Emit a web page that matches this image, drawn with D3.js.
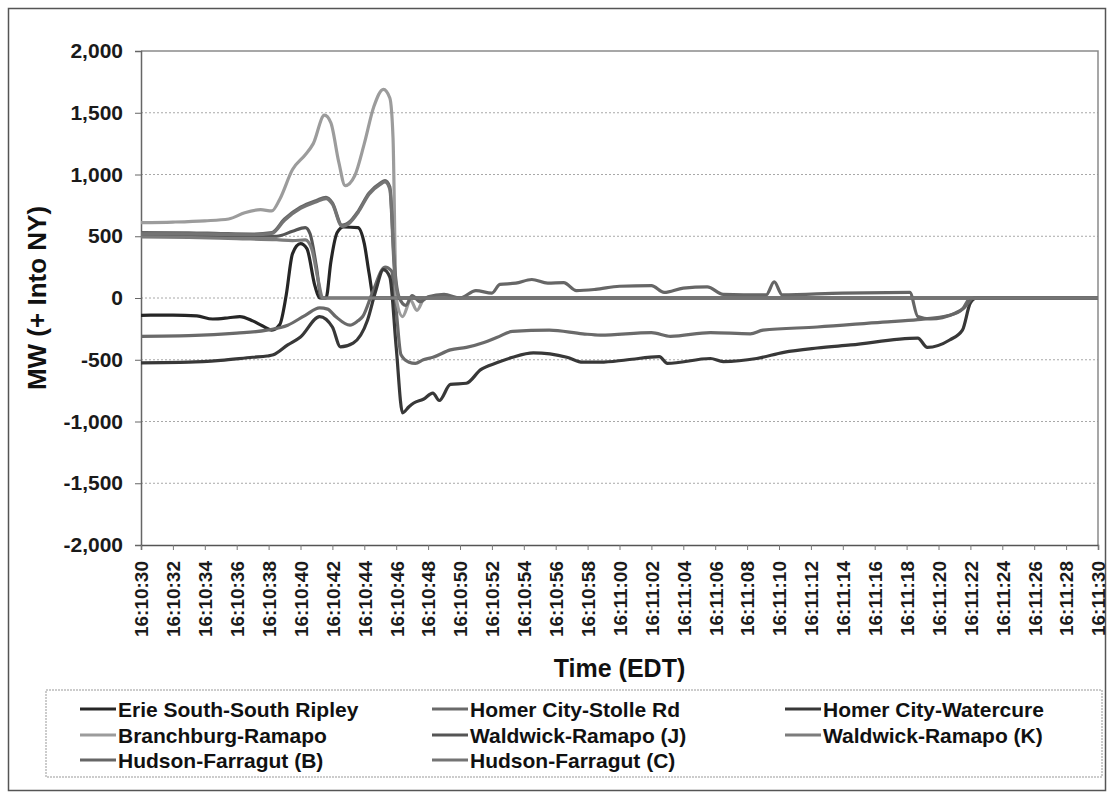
<!DOCTYPE html>
<html>
<head>
<meta charset="utf-8">
<script src="https://cdn.jsdelivr.net/npm/d3@7"></script>
<style>
  body { margin: 0; background: #fff; }
  svg { font-family: "Liberation Sans", Arial, sans-serif; font-weight: bold; }
</style>
</head>
<body>
<svg id="chart" width="1109" height="794"></svg>
<script>

// seconds after 16:10:30, MW (+ into NY)
const erieSouth = [[0,-140],[2,-138],[3.5,-145],[4.5,-170],[5.5,-160],[6.2,-150],[7,-185],[7.6,-225],[8.2,-260],[8.7,-215],[9.1,20],[9.5,360],[10,440],[10.4,400],[10.9,100],[11.2,0],[11.6,0],[11.9,290],[12.3,530],[12.7,575],[13.6,570],[14,440],[14.3,200],[14.6,0],[60,0]];

const homerStolle = [[0,-310],[3,-305],[6,-285],[7.9,-260],[9.2,-220],[10.3,-140],[11.2,-80],[11.7,-90],[12.2,-150],[13.1,-220],[13.6,-185],[13.9,-150],[14.5,40],[15.3,250],[15.7,220],[16,-100],[16.3,-460],[16.8,-520],[17.2,-530],[17.7,-500],[18.3,-480],[19.4,-420],[20.4,-400],[21.5,-360],[22.3,-320],[23.3,-270],[25.6,-260],[27.7,-290],[28.8,-300],[32,-280],[33.2,-310],[35.7,-280],[38.2,-290],[39,-260],[42.4,-235],[46.5,-195],[48.7,-175],[50.7,-140],[51.5,-90],[52,0],[60,0]];

const homerWatercure = [[0,-525],[3,-520],[5,-505],[7,-480],[7.9,-470],[8.3,-460],[9.2,-380],[10,-315],[11.2,-150],[12,-235],[12.5,-395],[13.3,-365],[14.2,-180],[14.7,50],[15.2,230],[15.6,170],[16,-400],[16.4,-930],[16.8,-880],[17.1,-850],[17.7,-820],[18.3,-770],[18.7,-830],[19.4,-700],[20.4,-690],[21.3,-580],[22.3,-525],[23.3,-480],[24.6,-445],[26.7,-480],[27.7,-520],[28.8,-520],[30.5,-500],[32.5,-475],[33,-530],[35.7,-490],[36.5,-515],[38.6,-490],[40.3,-440],[42.4,-405],[44.5,-380],[48.7,-325],[49.3,-400],[50.7,-340],[51.5,-260],[52,-40],[52.4,0],[60,0]];

const branchburg = [[0,610],[2,615],[4,625],[5.5,640],[6.5,690],[7.5,715],[8.2,705],[8.7,800],[9.5,1040],[10.3,1160],[10.8,1250],[11.5,1480],[11.9,1420],[12.4,1100],[12.8,910],[13.4,990],[14,1250],[14.6,1550],[15.2,1690],[15.6,1620],[15.8,1300],[16,0],[16.4,-150],[16.9,-20],[17.3,-100],[17.8,0],[60,0]];

const waldwickJ = [[0,510],[3,508],[6,500],[8.5,500],[9.5,540],[10.3,570],[10.6,520],[11,250],[11.3,0],[60,0]];

const waldwickK = [[0,495],[3,490],[6,480],[8.5,472],[9.5,465],[10.3,470],[10.7,400],[11.1,150],[11.4,0],[60,0]];

const hudsonB = [[0,530],[3,528],[5,522],[7,518],[8.2,530],[9,640],[10,735],[11,790],[11.6,815],[12,770],[12.6,590],[13.1,620],[13.6,700],[14.3,850],[15,930],[15.3,950],[15.6,900],[15.9,250],[16.2,0],[16.6,-60],[17,20],[17.5,-30],[18,10],[19,30],[20,0],[21,60],[22,40],[22.5,110],[23.5,120],[24.5,150],[25.5,120],[26.5,125],[27.3,60],[28.5,70],[30,95],[32,100],[32.8,45],[34,80],[35.5,90],[36.5,30],[39.2,25],[39.7,130],[40.2,25],[44,40],[48.2,45],[48.7,-150],[49.5,-170],[51,-125],[51.6,-80],[52.2,0],[60,0]];

const hudsonC = [[0,520],[4,518],[7,512],[8.2,522],[9,630],[10,725],[11,780],[11.6,805],[12,760],[12.6,580],[13.1,610],[13.6,690],[14.3,840],[15,920],[15.3,940],[15.6,880],[15.9,200],[16.2,0],[60,0]];

const seriesNames = ["Erie South-South Ripley", "Homer City-Stolle Rd", "Homer City-Watercure",
                     "Branchburg-Ramapo", "Waldwick-Ramapo (J)", "Waldwick-Ramapo (K)",
                     "Hudson-Farragut (B)", "Hudson-Farragut (C)"];
const seriesValues = [erieSouth, homerStolle, homerWatercure, branchburg, waldwickJ, waldwickK, hudsonB, hudsonC];

const timeLabels = ["16:10:30","16:10:32","16:10:34","16:10:36","16:10:38","16:10:40","16:10:42","16:10:44",
                    "16:10:46","16:10:48","16:10:50","16:10:52","16:10:54","16:10:56","16:10:58","16:11:00",
                    "16:11:02","16:11:04","16:11:06","16:11:08","16:11:10","16:11:12","16:11:14","16:11:16",
                    "16:11:18","16:11:20","16:11:22","16:11:24","16:11:26","16:11:28","16:11:30"];
const yTicks = [-2000, -1500, -1000, -500, 0, 500, 1000, 1500, 2000];

// grey shades of the scanned print
const seriesColors = ["#262626", "#6a6a6a", "#383838", "#9c9c9c", "#555555", "#7c7c7c", "#666666", "#747474"];

const svg = d3.select("#chart");

const plotLeft = 141, plotRight = 1098, plotTop = 51, plotBottom = 545;

const x = d3.scaleLinear().domain([0, 60]).range([plotLeft, plotRight]);
const y = d3.scaleLinear().domain([-2000, 2000]).range([plotBottom, plotTop]);

// outer frame
svg.append("rect")
  .attr("x", 8.5).attr("y", 8.5)
  .attr("width", 1097).attr("height", 782)
  .attr("fill", "none")
  .attr("stroke", "#555")
  .attr("stroke-width", 1.5);

// gridlines
svg.append("g")
  .selectAll("line")
  .data(yTicks.filter(d => d > -2000 && d < 2000))
  .enter()
  .append("line")
  .attr("x1", plotLeft).attr("x2", plotRight)
  .attr("y1", d => y(d)).attr("y2", d => y(d))
  .attr("stroke", "#a8a8a8")
  .attr("stroke-width", 1)
  .attr("stroke-dasharray", "2,2");

// plot frame top & right
svg.append("path")
  .attr("d", "M" + plotLeft + "," + y(2000) + "H" + plotRight + "V" + y(-2000))
  .attr("fill", "none")
  .attr("stroke", "#8a8a8a")
  .attr("stroke-width", 1.5);

const yAxis = d3.axisLeft(y)
  .tickValues(yTicks)
  .tickSize(6)
  .tickPadding(12)
  .tickFormat(d => d3.format(",")(d).replace("\u2212", "-"));

const gy = svg.append("g")
  .attr("transform", "translate(" + plotLeft + ",0)")
  .call(yAxis);
gy.select(".domain").attr("stroke", "#666").attr("stroke-width", 1.5);
gy.selectAll(".tick line").attr("stroke", "#666");
gy.selectAll("text")
  .attr("font-size", 21)
  .attr("font-weight", "bold")
  .attr("font-family", "Liberation Sans, Arial, sans-serif")
  .attr("fill", "#1a1a1a");

const xAxis = d3.axisBottom(x)
  .tickValues(d3.range(0, 61, 2))
  .tickSize(5)
  .tickFormat((d, i) => timeLabels[i]);

const gx = svg.append("g")
  .attr("transform", "translate(0," + plotBottom + ")")
  .call(xAxis);
gx.select(".domain").attr("stroke", "#555").attr("stroke-width", 1.5);
gx.selectAll(".tick line").attr("stroke", "#777");
gx.selectAll("text")
  .attr("transform", "rotate(-90)")
  .attr("text-anchor", "end")
  .attr("x", -16)
  .attr("y", 0)
  .attr("dy", "0.36em")
  .attr("font-size", 19)
  .attr("font-weight", "bold")
  .attr("font-family", "Liberation Sans, Arial, sans-serif")
  .attr("fill", "#1a1a1a");

// lines
const line = d3.line()
  .x(d => x(d[0]))
  .y(d => y(d[1]))
  .curve(d3.curveMonotoneX);

svg.append("g")
  .selectAll("path")
  .data(seriesValues)
  .enter()
  .append("path")
  .attr("d", line)
  .attr("fill", "none")
  .attr("stroke", (d, i) => seriesColors[i])
  .attr("stroke-width", 3.2)
  .attr("stroke-linejoin", "round");

// axis titles
svg.append("text")
  .attr("transform", "translate(46," + ((plotTop + plotBottom) / 2) + ") rotate(-90)")
  .attr("text-anchor", "middle")
  .attr("font-size", 26)
  .attr("fill", "#111")
  .text("MW (+ Into NY)");

svg.append("text")
  .attr("x", (plotLeft + plotRight) / 2)
  .attr("y", 677)
  .attr("text-anchor", "middle")
  .attr("font-size", 25)
  .attr("fill", "#111")
  .text("Time (EDT)");

// legend
svg.append("rect")
  .attr("x", 46).attr("y", 690)
  .attr("width", 1056).attr("height", 87)
  .attr("fill", "none")
  .attr("stroke", "#999")
  .attr("stroke-dasharray", "2,1");

const legendCols = [80, 432, 785];
const legendRows = [709, 735, 760];

const legendItem = svg.append("g")
  .selectAll("g")
  .data(seriesNames)
  .enter()
  .append("g")
  .attr("transform", (d, i) => "translate(" + legendCols[i % 3] + "," + legendRows[Math.floor(i / 3)] + ")");

legendItem.append("line")
  .attr("x1", 0).attr("x2", 36)
  .attr("y1", 0).attr("y2", 0)
  .attr("stroke", (d, i) => seriesColors[i])
  .attr("stroke-width", 3);

legendItem.append("text")
  .attr("x", 38)
  .attr("dy", "0.36em")
  .attr("font-size", 21)
  .attr("fill", "#111")
  .text(d => d);

</script>
</body>
</html>
